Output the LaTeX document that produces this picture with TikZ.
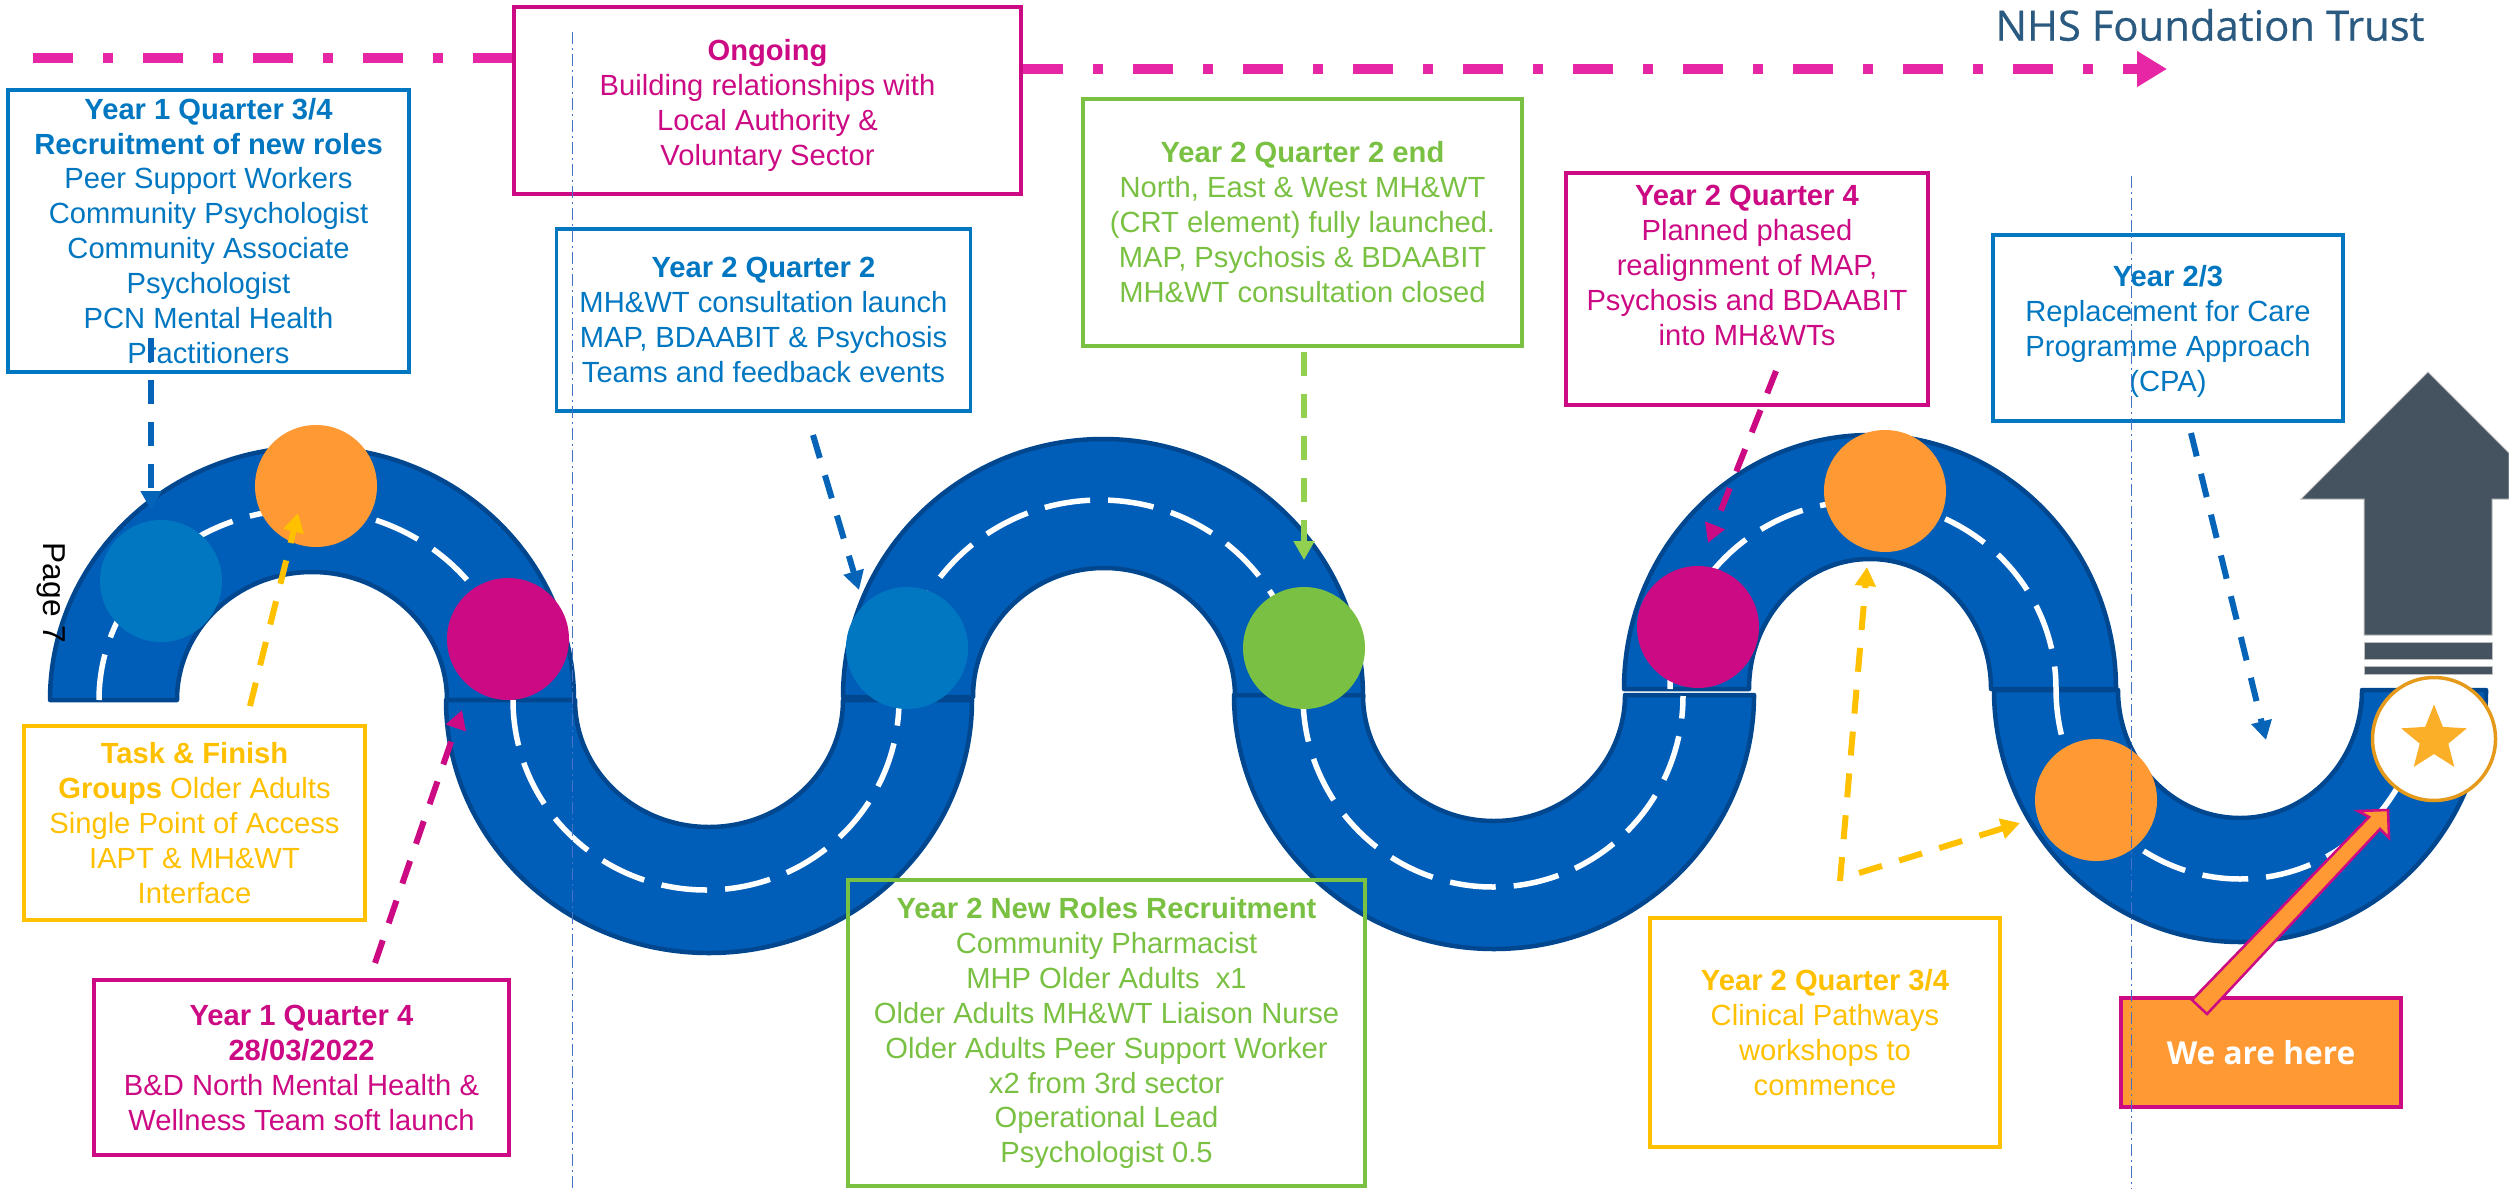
\documentclass[tikz,border=0pt]{standalone}
\usepackage{fontspec}
\setmainfont{Liberation Sans}
\newfontfamily\logofont{Open Sans}
\newfontfamily\trustfont[FakeBold=0.5]{Open Sans}
\usetikzlibrary{arrows.meta,shapes.geometric}
\definecolor{roadblue}{HTML}{005EB8}
\definecolor{roadedge}{HTML}{00478F}
\definecolor{txtblue}{HTML}{0077C0}
\definecolor{txtpink}{HTML}{CC0A83}
\definecolor{txtgreen}{HTML}{7AC143}
\definecolor{txtyellow}{HTML}{FFC000}
\definecolor{spotorange}{HTML}{FF9933}
\definecolor{linkgreen}{HTML}{92D050}
\definecolor{linkblue}{HTML}{0563B8}
\definecolor{ongoingpink}{HTML}{E726A5}
\definecolor{slatearrow}{HTML}{44535F}
\definecolor{guideblue}{HTML}{4472C4}
\definecolor{logoblue}{HTML}{2B5A80}
\definecolor{starfill}{HTML}{FBAE27}
\definecolor{starring}{HTML}{E59A1C}

\begin{document}
\begin{tikzpicture}[
		x=.1mm, y=-.1mm,
		roadpiece/.style={draw=roadedge, fill=roadblue, line width=.45mm, line join=round},
		lane/.style={draw=white, line width=.55mm, dash pattern=on 4.6mm off 1.8mm},
		guide/.style={draw=guideblue, line width=.1mm, dash pattern=on 1.2mm off .4mm on .2mm off .4mm},
		spot/.style={circle, minimum size=12.2mm, inner sep=0pt},
		infobox/.style={
			draw, line width=.38mm, inner sep=0pt, align=center,
			font=\fontsize{8.3pt}{9.95pt}\selectfont
		},
		bluebox/.style={infobox, draw=txtblue, text=txtblue},
		pinkbox/.style={infobox, draw=txtpink, text=txtpink},
		greenbox/.style={infobox, draw=txtgreen, text=txtgreen},
		yellowbox/.style={infobox, draw=txtyellow, text=txtyellow},
		link/.style={line width=.6mm, dash pattern=on 2.4mm off 1.8mm, -{Triangle[length=1.9mm,width=2mm]}},
		ongoingline/.style={draw=ongoingpink, line width=1mm, dash pattern=on 4mm off 3mm on 1mm off 3mm}
		]
		\useasboundingbox (0,0) rectangle (2509,1188);
		
		% ---- road, left to right
		\draw[roadpiece] (50,700) arc[start angle=180, end angle=360, x radius=262, y radius=253] -- (447,700) arc[start angle=360, end angle=180, x radius=135, y radius=128] -- cycle;
		\draw[roadpiece] (446,700) arc[start angle=180, end angle=0, x radius=263, y radius=253] -- (843,700) arc[start angle=0, end angle=180, x radius=134, y radius=127] -- cycle;
		\draw[roadpiece] (843,697) arc[start angle=180, end angle=360, x radius=260, y radius=258] -- (1235,697) arc[start angle=360, end angle=180, x radius=131, y radius=129] -- cycle;
		\draw[roadpiece] (1234,695) arc[start angle=180, end angle=0, x radius=260, y radius=254] -- (1625,695) arc[start angle=0, end angle=180, x radius=131, y radius=126] -- cycle;
		\draw[roadpiece] (1624,689) arc[start angle=180, end angle=360, x radius=246, y radius=254] -- (1991,689) arc[start angle=360, end angle=180, x radius=121, y radius=130] -- cycle;
		\draw[roadpiece] (1994,690) arc[start angle=180, end angle=0, x radius=246, y radius=252] -- (2362,690) arc[start angle=0, end angle=180, x radius=122, y radius=128] -- cycle;
		
		% ---- lane markings
		\draw[lane] (99,700) arc[start angle=180, end angle=360, x radius=207, y radius=191];
		\draw[lane] (513,700) arc[start angle=180, end angle=0, x radius=193, y radius=190];
		\draw[lane] (899,696) arc[start angle=180, end angle=360, x radius=201, y radius=196];
		\draw[lane] (1303,696) arc[start angle=180, end angle=0, x radius=190, y radius=191];
		\draw[lane] (1670,689) arc[start angle=180, end angle=360, x radius=193, y radius=188];
		\draw[lane] (2056,689) arc[start angle=180, end angle=0, x radius=184, y radius=190];
		
		% ---- stops on the road
		\node[spot, fill=txtblue]   (stopa) at (161,581) {};
		\node[spot, fill=spotorange] (stopb) at (316,486) {};
		\node[spot, fill=txtpink]   (stopc) at (508,639) {};
		\node[spot, fill=txtblue]   (stopd) at (907,648) {};
		\node[spot, fill=txtgreen]  (stope) at (1304,648) {};
		\node[spot, fill=txtpink]   (stopf) at (1698,627) {};
		\node[spot, fill=spotorange] (stopg) at (1885,491) {};
		\node[spot, fill=spotorange] (stoph) at (2096,800) {};
		
		% ---- arrow up at the end of the road
		\fill[slatearrow, draw=black!25, line width=.1mm] (2428,372) -- (2509,453) -- (2509,499) -- (2492,499) -- (2492,635) -- (2364,635) -- (2364,499) -- (2301,499) -- cycle;
		\fill[slatearrow, draw=black!25, line width=.1mm] (2364,642) rectangle (2492,659);
		\fill[slatearrow, draw=black!25, line width=.1mm] (2364,666) rectangle (2492,674);
		\node[circle, draw=starring, fill=white, line width=.35mm, minimum size=12.3mm, inner sep=0pt] (goal) at (2434,739) {};
		\node[star, star points=5, star point ratio=2.3, fill=starfill, minimum size=6.9mm, inner sep=0pt] (goalstar) at (goal) {};
		
		% ---- boxes
		\node[bluebox, minimum width=40.1mm, minimum height=28.2mm] (recruit) at (208.5,231) {\textbf{Year 1 Quarter 3/4}\\\textbf{Recruitment of new roles}\\Peer Support Workers\\Community Psychologist\\Community Associate\\Psychologist\\PCN Mental Health\\Practitioners};
		\node[pinkbox, minimum width=50.7mm, minimum height=18.7mm] (ongoing) at (767.5,100.5) {\mbox{}\\[-.4mm]\textbf{Ongoing}\\Building relationships with\\Local Authority \&\\Voluntary Sector};
		\node[bluebox, minimum width=41.4mm, minimum height=18.2mm] (consult) at (763.5,320) {\textbf{Year 2 Quarter 2}\\MH\&WT consultation launch\\MAP, BDAABIT \& Psychosis\\Teams and feedback events};
		\node[greenbox, minimum width=43.9mm, minimum height=24.7mm] (launched) at (1302.5,222.5) {\textbf{Year 2 Quarter 2 end}\\North, East \& West MH\&WT\\(CRT element) fully launched.\\MAP, Psychosis \& BDAABIT\\MH\&WT consultation closed};
		\node[pinkbox, minimum width=36.2mm, minimum height=23.2mm] (realign) at (1747,289) {\textbf{Year 2 Quarter 4}\\Planned phased\\realignment of MAP,\\Psychosis and BDAABIT\\into MH\&WTs\\[1.3mm]\mbox{}};
		\node[bluebox, minimum width=35mm, minimum height=18.6mm] (replace) at (2168,328) {\mbox{}\\[-.76mm]\textbf{Year 2/3}\\Replacement for Care\\Programme Approach\\(CPA)};
		\node[yellowbox, minimum width=34.1mm, minimum height=19.4mm] (task) at (194.5,823) {\textbf{Task \& Finish}\\\textbf{Groups} Older Adults\\Single Point of Access\\IAPT \& MH\&WT\\Interface};
		\node[pinkbox, minimum width=41.5mm, minimum height=17.5mm] (softlaunch) at (301.5,1067.5) {\textbf{Year 1 Quarter 4}\\\textbf{28/03/2022}\\B\&D North Mental Health \&\\Wellness Team soft launch};
		\node[greenbox, minimum width=51.7mm, minimum height=30.6mm] (newroles) at (1106.5,1033) {\textbf{Year 2 New Roles Recruitment}\\Community Pharmacist\\MHP Older Adults~~x1\\Older Adults MH\&WT Liaison Nurse\\Older Adults Peer Support Worker\\x2 from 3rd sector\\Operational Lead\\Psychologist 0.5};
		\node[yellowbox, minimum width=35mm, minimum height=22.9mm] (pathways) at (1825,1032.5) {\textbf{Year 2 Quarter 3/4}\\Clinical Pathways\\workshops to\\commence};
		\node[draw=txtpink, fill=spotorange, text=white, line width=.38mm, minimum width=28mm, minimum height=10.9mm, inner sep=0pt, font=\logofont\bfseries\fontsize{9pt}{10pt}\selectfont] (here) at (2261,1052.5) {We are here};
		
		% ---- pointer from the orange box to the goal
		\filldraw[fill=spotorange, draw=txtpink, line width=.25mm, line join=miter] (2192,1000) -- (2369,817) -- (2358,811) -- (2388,810) -- (2389,838) -- (2380,829) -- (2207,1014) -- cycle;
		
		% ---- free ends of the dashed arrows
		\coordinate (recruitout) at (151,338);
		\coordinate (recruitin)  at (151,510);
		\coordinate (taskout)    at (250,706);
		\coordinate (taskin)     at (298,513);
		\coordinate (softout)    at (375,963);
		\coordinate (softin)     at (462,710);
		\coordinate (consultout) at (813,435);
		\coordinate (consultin)  at (859,590);
		\coordinate (launchout)  at (1304,352);
		\coordinate (launchin)   at (1304,560);
		\coordinate (realignout) at (1776,371);
		\coordinate (realignin)  at (1708,543);
		\coordinate (pathupout)  at (1840,881);
		\coordinate (pathupin)   at (1867,567);
		\coordinate (pathoutr)   at (1859,873);
		\coordinate (pathinr)    at (2020,823);
		\coordinate (replaceout) at (2191,433);
		\coordinate (replacein)  at (2266,740);
		\draw[link, linkblue]  (recruitout) -- (recruitin);
		\draw[link, txtyellow] (taskout) -- (taskin);
		\draw[link, txtpink]   (softout) -- (softin);
		\draw[link, linkblue]  (consultout) -- (consultin);
		\draw[link, linkgreen] (launchout) -- (launchin);
		\draw[link, txtpink]   (realignout) -- (realignin);
		\draw[link, txtyellow] (pathupout) -- (pathupin);
		\draw[link, txtyellow] (pathoutr) -- (pathinr);
		\draw[link, linkblue]  (replaceout) -- (replacein);
		
		% ---- ongoing line, broken by its box
		\coordinate (ongoingstart) at (33,58);
		\coordinate (ongoingend) at (2167,69);
		\draw[ongoingline] (ongoingstart) -- (ongoing.west |- ongoingstart);
		\draw[ongoingline, -{Triangle[length=3mm,width=3.4mm]}] (ongoing.east |- ongoingend) -- (ongoingend);
		
		% ---- guides
		\coordinate (guideatop) at (572,32);
		\coordinate (guideabot) at (572,1188);
		\coordinate (guidebtop) at (2131,176);
		\coordinate (guidebbot) at (2131,1188);
		\draw[guide] (guideatop) -- (guideabot);
		\draw[guide] (guidebtop) -- (guidebbot);
		
		% ---- page mark and logo text
		\node[rotate=-90, font=\fontsize{9pt}{10pt}\selectfont, inner sep=0pt] (pagemark) at (51,593) {Page 7};
		\node[text=logoblue, font=\trustfont\fontsize{11.9pt}{12pt}\selectfont, inner sep=0pt] (trust) at (2210,25) {NHS Foundation Trust};
	\end{tikzpicture}
\end{document}
